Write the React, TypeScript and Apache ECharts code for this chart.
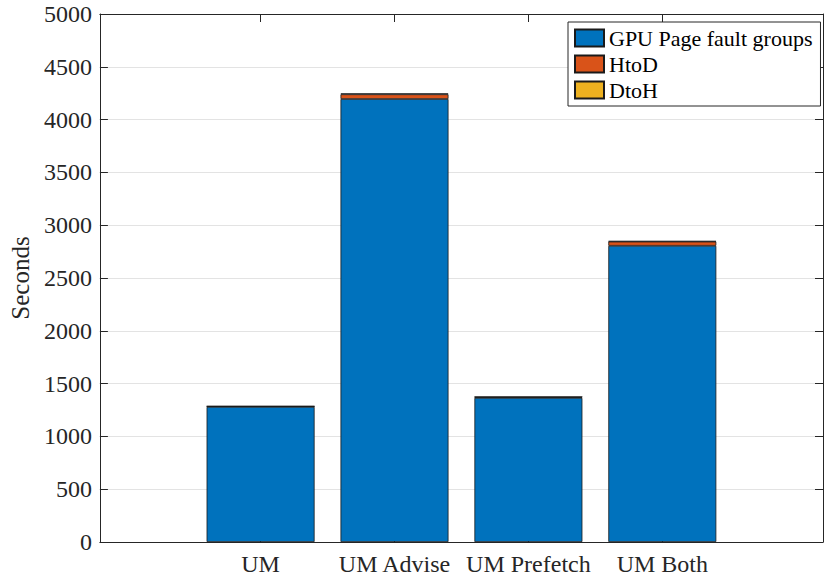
import React, { useEffect, useRef } from "react";
import * as echarts from "echarts";

const categories = ["UM", "UM Advise", "UM Prefetch", "UM Both"];
const gpuFaults = [1280, 4195, 1365, 2805];
const htod = [5, 45, 8, 40];
const dtoh = [1, 8, 2, 5];
const yTicks = [0, 500, 1000, 1500, 2000, 2500, 3000, 3500, 4000, 4500, 5000];

// x range of the axes runs from -0.2 to 5.2 in steps of 0.2 (28 slots); bars sit at 1..4
const SLOTS = 28;
const barSlots = [6, 11, 16, 21];

const FONT = "Liberation Serif";
const AXIS = "#262626";

export default function App() {
  const ref = useRef<HTMLDivElement>(null);
  useEffect(() => {
    if (!ref.current) return;
    const chart = echarts.init(ref.current, undefined, { renderer: "svg" });
    const slotNames = Array.from({ length: SLOTS }, (_, i) => {
      const k = barSlots.indexOf(i);
      return k >= 0 ? categories[k] : "";
    });
    const isBar = (i: number) => barSlots.indexOf(i) >= 0;
    const fill = (vals: number[]) =>
      Array.from({ length: SLOTS }, (_, i) => {
        const k = barSlots.indexOf(i);
        return k >= 0 ? vals[k] : null;
      });
    const mk = (name: string, vals: number[], color: string) => ({
      name,
      type: "bar",
      stack: "total",
      barWidth: 108,
      xAxisIndex: 0,
      yAxisIndex: 0,
      itemStyle: { color, borderColor: "#1a1a1a", borderWidth: 0.8 },
      data: fill(vals),
    });
    const xCommon = {
      type: "category",
      data: slotNames,
      boundaryGap: false,
      splitLine: { show: false },
      axisLine: { show: true, onZero: false, lineStyle: { color: AXIS, width: 1 } },
      axisTick: {
        show: true,
        inside: true,
        length: 8,
        interval: (i: number) => isBar(i),
        lineStyle: { color: AXIS, width: 1 },
      },
    };
    chart.setOption({
      animation: false,
      backgroundColor: "#fff",
      grid: { left: 96, right: 7, top: 14, bottom: 35, show: false },
      legend: {
        orient: "vertical",
        left: 568,
        top: 22,
        backgroundColor: "#fff",
        borderColor: AXIS,
        borderWidth: 1,
        borderRadius: 0,
        padding: [5, 8, 5, 6],
        itemWidth: 29,
        itemHeight: 17,
        itemGap: 4,
        icon: "rect",
        textStyle: { fontFamily: FONT, fontSize: 22, color: "#000" },
        data: ["GPU Page fault groups", "HtoD", "DtoH"],
      },
      xAxis: [
        {
          ...xCommon,
          position: "bottom",
          axisLabel: {
            show: true,
            interval: (i: number) => isBar(i),
            margin: 10,
            fontFamily: FONT,
            fontSize: 24,
            color: AXIS,
          },
        },
        {
          ...xCommon,
          position: "top",
          axisLabel: { show: false },
        },
      ],
      yAxis: [
        {
          type: "value",
          min: 0,
          max: 5000,
          interval: 500,
          position: "left",
          name: "Seconds",
          nameLocation: "middle",
          nameGap: 57,
          nameTextStyle: { fontFamily: FONT, fontSize: 25, color: AXIS },
          axisLine: { show: true, onZero: false, lineStyle: { color: AXIS, width: 1 } },
          axisTick: { show: true, inside: true, length: 8, lineStyle: { color: AXIS } },
          axisLabel: {
            margin: 8,
            fontFamily: FONT,
            fontSize: 24,
            color: AXIS,
            formatter: (v: number) => (yTicks.indexOf(v) >= 0 ? String(v) : ""),
          },
          splitLine: { show: true, lineStyle: { color: "#e3e3e3", width: 1 } },
        },
        {
          type: "value",
          min: 0,
          max: 5000,
          interval: 500,
          position: "right",
          axisLine: { show: true, onZero: false, lineStyle: { color: AXIS, width: 1 } },
          axisTick: { show: true, inside: true, length: 8, lineStyle: { color: AXIS } },
          axisLabel: { show: false },
          splitLine: { show: false },
        },
      ],
      series: [
        mk("GPU Page fault groups", gpuFaults, "#0072BD"),
        mk("HtoD", htod, "#D95319"),
        mk("DtoH", dtoh, "#EDB120"),
      ],
    });
    return () => chart.dispose();
  }, []);
  return (
    <div
      ref={ref}
      style={{ position: "fixed", left: 0, top: 0, width: 830, height: 577, background: "#fff" }}
    />
  );
}
